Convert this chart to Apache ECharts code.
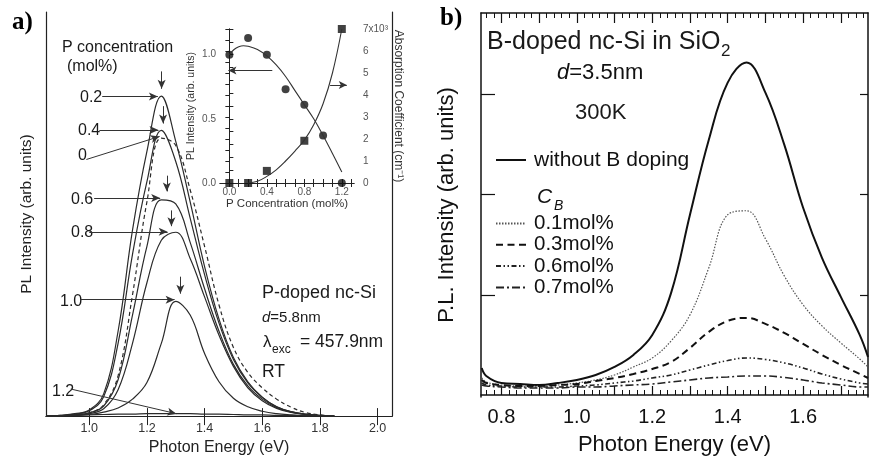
<!DOCTYPE html>
<html><head><meta charset="utf-8">
<script src="https://cdn.jsdelivr.net/npm/echarts@6/dist/echarts.min.js"></script>
<style>html,body{margin:0;padding:0;background:#fff}#c{width:869px;height:461px}</style>
</head><body><div id="c"></div>
<script>
const FONT = 'Liberation Sans';

// ---------- Panel a : PL spectra of P-doped nc-Si ----------
const energyA = [0.85,0.9,0.95,1.0,1.05,1.1,1.15,1.2,1.25,1.3,1.35,1.4,1.45,1.5,1.55,1.6,1.65,1.7,1.75,1.8,1.85];
const plA_00 = [0,0.1,0.3,0.8,2.8,10,30,53,68.8,67,56,42,27.5,17,10.8,7,4.2,2.2,0.9,0.3,0];
const plA_02 = [0,0.2,0.6,1.5,5.5,21,46,65.5,79.2,68,53,37,24,14.5,8.5,4.7,2.3,1.1,0.5,0.2,0];
const plA_04 = [0,0.2,0.5,1.3,4.8,18,40,58,70.7,63,49,35,23,14,8.2,4.6,2.3,1.1,0.5,0.2,0];
const plA_06 = [0,0.1,0.3,0.8,2.5,9,25,42,53.5,52.5,43,31.5,21,12.8,7.5,4.2,2.1,1,0.4,0.15,0];
const plA_08 = [0,0.1,0.2,0.6,1.8,6.5,18,33,43.5,45.5,39,29.5,20,12.3,7,3.8,1.9,0.9,0.4,0.15,0];
const plA_10 = [0,0,0.2,0.4,1,2,4.2,8.3,18,28.4,25,15.5,8.5,4.4,2.3,1.2,0.6,0.3,0.1,0,0];
const plA_12 = [0,0.1,0.2,0.3,0.4,0.5,0.5,0.6,0.6,0.6,0.6,0.5,0.5,0.4,0.3,0.3,0.2,0.2,0.1,0.1,0];
const concLabelsA = ['0.2','0.4','0','0.6','0.8','1.0','1.2'];
const ticksA = [1.0,1.2,1.4,1.6,1.8,2.0];

// ---------- Inset ----------
const concPts = [0,0.2,0.4,0.6,0.8,1.0,1.2];
const plPts = [1.0,1.13,1.0,0.73,0.61,0.37,0.0];
const absConcPts = [0,0.2,0.4,0.8,1.2];
const absPts = [0,0,0.55,1.92,7.0];
const fitPlX = [0,0.05,0.1,0.15,0.2,0.3,0.4,0.5,0.6,0.7,0.8,0.9,1.0,1.1,1.2];
const fitPlY = [1.0,1.04,1.062,1.07,1.066,1.04,0.99,0.92,0.83,0.72,0.61,0.5,0.37,0.23,0.085];
const fitAbsX = [0.2,0.3,0.4,0.5,0.6,0.7,0.8,0.9,1.0,1.1,1.2];
const fitAbsY = [0,0.08,0.3,0.6,1.0,1.45,1.95,2.65,3.6,5.0,7.0];
const insetXLabels = [0,0.4,0.8,1.2];
const insetYLabels = [0,0.5,1.0];
const insetY2Labels = [0,1,2,3,4,5,6,7];

// ---------- Panel b : PL spectra of B-doped nc-Si ----------
const energyB = [0.748,0.76,0.8,0.85,0.9,0.95,1.0,1.05,1.1,1.15,1.2,1.25,1.3,1.35,1.4,1.45,1.5,1.55,1.6,1.65,1.7,1.75,1.772];
const plB_none = [0.27,0.19,0.12,0.11,0.1,0.12,0.15,0.2,0.28,0.4,0.6,1.02,1.8,2.55,3.12,3.32,3.02,2.5,1.87,1.37,0.98,0.6,0.38];
const plB_01 = [0.17,0.13,0.1,0.09,0.09,0.1,0.12,0.15,0.2,0.28,0.37,0.54,0.8,1.27,1.8,1.84,1.56,1.19,0.9,0.69,0.52,0.36,0.28];
const plB_03 = [0.15,0.12,0.1,0.09,0.09,0.1,0.11,0.14,0.17,0.21,0.26,0.33,0.47,0.63,0.74,0.77,0.71,0.62,0.51,0.4,0.3,0.21,0.17];
const plB_06 = [0.12,0.1,0.09,0.08,0.08,0.08,0.09,0.1,0.12,0.14,0.17,0.2,0.25,0.3,0.345,0.37,0.355,0.32,0.27,0.21,0.16,0.12,0.11];
const plB_07 = [0.1,0.09,0.08,0.07,0.07,0.07,0.08,0.08,0.09,0.1,0.11,0.13,0.15,0.17,0.18,0.19,0.19,0.175,0.15,0.12,0.1,0.08,0.08];
const ticksBLabels = [0.8,1.0,1.2,1.4,1.6];
const ticksBY = [1,2,3];

function zip(xs, ys){ return xs.map((x,i)=>[x, ys[i]]); }
function steps(a, b, s){ const r=[]; for(let v=a; v<=b+1e-9; v+=s) r.push(+v.toFixed(3)); return r; }

const ticksBMajor = steps(0.8, 1.7, 0.1);
const ticksBMinor = steps(0.76, 1.76, 0.02);
const insetXTicks = steps(0, 1.3, 0.1);
const insetYTicks = steps(0, 1.2, 0.1);
const insetY2Ticks = steps(0, 7, 0.5);

const axisCol = '#222';
const NOSYM = {color:'rgba(0,0,0,0)', borderColor:'rgba(0,0,0,0)', borderWidth:0};
const txt = (text, x, y, size, extra) => Object.assign({
  type:'text', x, y, silent:true,
  style:{text, font: size+'px '+FONT, fill:'#1a1a1a', verticalAlign:'middle', align:'left'}
}, extra||{});

const lineA = (name, ys, dashed) => ({
  name, type:'line', xAxisIndex:0, yAxisIndex:0, data: zip(energyA, ys),
  smooth:0.4, symbol:'none', itemStyle:NOSYM,
  lineStyle:{color:'#2b2b2b', width:1.2, type: dashed ? [4,3] : 'solid'}
});
const lineB = (name, ys, width, type, color) => ({
  name, type:'line', xAxisIndex:4, yAxisIndex:4, data: zip(energyB, ys),
  smooth:0.4, symbol:'none', itemStyle:NOSYM,
  lineStyle:{color, width, type}
});

const arrowStyle = {symbol:['none','arrow'], symbolSize:[6,9], silent:true, label:{show:false},
  lineStyle:{color:'#333', width:1, type:'solid'}, emphasis:{disabled:true}};
const seg = (a,b) => [{coord:a},{coord:b}];

const chart = echarts.init(document.getElementById('c'), null, {renderer:'canvas'});
chart.setOption({
  animation:false,
  backgroundColor:'#fff',
  textStyle:{fontFamily:FONT},
  grid:[
    {left:46, top:12, width:346, height:407},
    {left:220, top:29, width:134, height:154},
    {left:481, top:13, width:387, height:386}
  ],
  xAxis:[
    {gridIndex:0, type:'value', position:'bottom', min:0.85, max:2.05,
      axisLine:{lineStyle:{color:axisCol, width:1.2}},
      axisTick:{inside:true, length:8, customValues:ticksA, lineStyle:{color:axisCol}},
      axisLabel:{customValues:ticksA, formatter:v=>v.toFixed(1), fontSize:12.5, color:'#333', margin:6},
      splitLine:{show:false},
      name:'Photon Energy (eV)', nameLocation:'middle', nameGap:19, nameTextStyle:{fontSize:16, color:'#222'}},
    {gridIndex:0, type:'value', position:'top', min:0.85, max:2.05,
      axisLine:{lineStyle:{color:axisCol, width:1.2}},
      axisTick:{inside:true, length:9, customValues:ticksA, lineStyle:{color:axisCol}},
      axisLabel:{show:false}, splitLine:{show:false}},
    {gridIndex:1, type:'value', position:'bottom', min:-0.1, max:1.33,
      axisLine:{lineStyle:{color:axisCol, width:1}},
      axisTick:{inside:true, length:4, customValues:insetXTicks, lineStyle:{color:axisCol}},
      axisLabel:{customValues:insetXLabels, formatter:v=>v.toFixed(1), fontSize:10, color:'#555', margin:4},
      splitLine:{show:false},
      name:'P Concentration (mol%)', nameLocation:'middle', nameGap:14, nameTextStyle:{fontSize:11.5, color:'#333'}},
    {gridIndex:1, type:'value', position:'top', min:-0.1, max:1.33,
      axisLine:{lineStyle:{color:axisCol, width:1}},
      axisTick:{inside:true, length:4, customValues:insetXTicks, lineStyle:{color:axisCol}},
      axisLabel:{show:false}, splitLine:{show:false}},
    {gridIndex:2, type:'value', position:'bottom', min:0.746, max:1.772,
      axisLine:{lineStyle:{color:'#111', width:1.5}},
      axisTick:{inside:true, length:9, customValues:ticksBMajor, lineStyle:{color:'#111', width:1.2}},
      axisLabel:{customValues:ticksBLabels, formatter:v=>v.toFixed(1), fontSize:20, color:'#111', margin:10},
      splitLine:{show:false},
      name:'Photon Energy (eV)', nameLocation:'middle', nameGap:37, nameTextStyle:{fontSize:22, color:'#111'}},
    {gridIndex:2, type:'value', position:'bottom', min:0.746, max:1.772,
      axisLine:{show:false},
      axisTick:{inside:true, length:5, customValues:ticksBMinor, lineStyle:{color:'#111', width:1}},
      axisLabel:{show:false}, splitLine:{show:false}},
    {gridIndex:2, type:'value', position:'top', min:0.746, max:1.772,
      axisLine:{lineStyle:{color:'#111', width:1.5}},
      axisTick:{inside:true, length:10, customValues:ticksBMajor, lineStyle:{color:'#111', width:1.2}},
      axisLabel:{show:false}, splitLine:{show:false}},
    {gridIndex:2, type:'value', position:'top', min:0.746, max:1.772,
      axisLine:{show:false},
      axisTick:{inside:true, length:5, customValues:ticksBMinor, lineStyle:{color:'#111', width:1}},
      axisLabel:{show:false}, splitLine:{show:false}}
  ],
  yAxis:[
    {gridIndex:0, type:'value', position:'left', min:0, max:100,
      axisLine:{show:true, lineStyle:{color:axisCol, width:1.2}}, axisTick:{show:false},
      axisLabel:{show:false}, splitLine:{show:false},
      name:'PL Intensity (arb. units)', nameLocation:'middle', nameGap:11, nameTextStyle:{fontSize:15.5, color:'#222'}},
    {gridIndex:0, type:'value', position:'right', min:0, max:100,
      axisLine:{show:true, lineStyle:{color:axisCol, width:1.2}}, axisTick:{show:false},
      axisLabel:{show:false}, splitLine:{show:false}},
    {gridIndex:1, type:'value', position:'left', min:0, max:1.2,
      axisLine:{show:true, lineStyle:{color:axisCol, width:1}},
      axisTick:{inside:true, length:4, customValues:insetYTicks, lineStyle:{color:axisCol}},
      axisLabel:{customValues:insetYLabels, formatter:v=>v.toFixed(1), fontSize:10, color:'#555', margin:4},
      splitLine:{show:false},
      name:'PL Intensity (arb. units)', nameLocation:'middle', nameGap:23, nameTextStyle:{fontSize:10.5, color:'#333'}},
    {gridIndex:1, type:'value', position:'right', min:0, max:7,
      axisLine:{show:true, lineStyle:{color:axisCol, width:1}},
      axisTick:{inside:true, length:4, customValues:insetY2Ticks, lineStyle:{color:axisCol}},
      axisLabel:{customValues:insetY2Labels, formatter:v=> v===7 ? '7x10³' : String(v), fontSize:10, color:'#555', margin:9},
      splitLine:{show:false},
      name:'Absorption Coefficient (cm⁻¹)', nameLocation:'middle', nameRotate:-90, nameGap:22, nameTextStyle:{fontSize:12, color:'#333'}},
    {gridIndex:2, type:'value', position:'left', min:-0.02, max:3.815,
      axisLine:{show:true, lineStyle:{color:'#111', width:1.5}},
      axisTick:{inside:true, length:14, customValues:ticksBY, lineStyle:{color:'#111', width:1.2}},
      axisLabel:{show:false}, splitLine:{show:false},
      name:'P.L. Intensity (arb. units)', nameLocation:'middle', nameGap:23, nameTextStyle:{fontSize:22, color:'#111'}},
    {gridIndex:2, type:'value', position:'right', min:-0.02, max:3.815,
      axisLine:{show:true, lineStyle:{color:'#111', width:1.5}},
      axisTick:{inside:true, length:8, customValues:ticksBY, lineStyle:{color:'#111', width:1.2}},
      axisLabel:{show:false}, splitLine:{show:false}}
  ],
  legend:[
    {data:['without B doping'], left:495, top:149.5, padding:0, itemWidth:30, itemHeight:14, selectedMode:false,
      itemStyle:NOSYM,
      textStyle:{fontSize:21, lineHeight:21, color:'#111', fontFamily:FONT, padding:[0,0,0,3]}},
    {data:['0.1mol%','0.3mol%','0.6mol%','0.7mol%'], orient:'vertical', left:495, top:213, padding:0, itemGap:0.3,
      itemWidth:30, itemHeight:14, selectedMode:false, itemStyle:NOSYM,
      textStyle:{fontSize:20.5, lineHeight:20, color:'#111', fontFamily:FONT, padding:[0,0,0,3]}}
  ],
  series:[
    lineA('0 mol%', plA_00, true),
    lineA('0.2 mol%', plA_02),
    lineA('0.4 mol%', plA_04),
    lineA('0.6 mol%', plA_06),
    lineA('0.8 mol%', plA_08),
    lineA('1.0 mol%', plA_10),
    lineA('1.2 mol%', plA_12),
    {name:'arrowsA', type:'line', xAxisIndex:0, yAxisIndex:0, data:[], symbol:'none',
      markLine:Object.assign({}, arrowStyle, {data:[
        seg([1.251,85.3],[1.251,81]), seg([1.256,76.7],[1.256,72.4]), seg([1.269,59.5],[1.269,55.6]),
        seg([1.285,50.9],[1.285,47]), seg([1.316,34.5],[1.316,30.3]),
        seg([1.045,79.1],[1.238,79.1]), seg([1.035,70.8],[1.24,70.8]), seg([0.99,63.5],[1.244,69.2]),
        seg([1.017,54],[1.246,54]), seg([1.0,45.6],[1.272,45.6]), seg([0.971,28.8],[1.296,28.8]),
        seg([0.936,6.7],[1.302,0.6])
      ]})},
    // inset
    {name:'PL fit', type:'line', xAxisIndex:2, yAxisIndex:2, data:zip(fitPlX, fitPlY), smooth:0.4, symbol:'none',
      lineStyle:{color:'#333', width:1.1}},
    {name:'Abs fit', type:'line', xAxisIndex:2, yAxisIndex:3, data:zip(fitAbsX, fitAbsY), smooth:0.4, symbol:'none',
      lineStyle:{color:'#333', width:1.1}},
    {name:'PL intensity', type:'scatter', xAxisIndex:2, yAxisIndex:2, data:zip(concPts, plPts), symbol:'circle', symbolSize:8,
      itemStyle:{color:'#111'}},
    {name:'Absorption', type:'scatter', xAxisIndex:2, yAxisIndex:3, data:zip(absConcPts, absPts), symbol:'rect', symbolSize:8,
      itemStyle:{color:'#111'}},
    {name:'arrowInsetL', type:'line', xAxisIndex:2, yAxisIndex:2, data:[], symbol:'none',
      markLine:Object.assign({}, arrowStyle, {symbolSize:[6,8], data:[seg([0.458,0.877],[-0.01,0.877])]})},
    {name:'arrowInsetR', type:'line', xAxisIndex:2, yAxisIndex:3, data:[], symbol:'none',
      markLine:Object.assign({}, arrowStyle, {symbolSize:[6,8], data:[seg([1.075,4.45],[1.253,4.45])]})},
    // panel b
    lineB('without B doping', plB_none, 2, 'solid', '#111'),
    lineB('0.1mol%', plB_01, 1.2, [1.5,1.5], '#555'),
    lineB('0.3mol%', plB_03, 2, [7,4.5], '#111'),
    lineB('0.6mol%', plB_06, 1.6, [5,2.5,1.5,2.5,1.5,2.5], '#222'),
    lineB('0.7mol%', plB_07, 1.6, [8,3,2,3], '#222')
  ],
  graphic:[
    {type:'text', x:12, y:23, silent:true, style:{text:'a)', font:'bold 25px Liberation Serif', fill:'#000', verticalAlign:'middle'}},
    {type:'text', x:440, y:19, silent:true, style:{text:'b)', font:'bold 25px Liberation Serif', fill:'#000', verticalAlign:'middle'}},
    txt('P concentration', 62, 48, 16),
    txt('(mol%)', 67, 67, 16),
    txt(concLabelsA[0], 80, 98, 16),
    txt(concLabelsA[1], 78, 131, 16),
    txt(concLabelsA[2], 78, 156, 16),
    txt(concLabelsA[3], 71, 200, 16),
    txt(concLabelsA[4], 71, 233, 16),
    txt(concLabelsA[5], 60, 302, 16),
    txt(concLabelsA[6], 52, 392, 16),
    txt('P-doped nc-Si', 262, 293, 18),
    {type:'text', x:262, y:318, silent:true, style:{text:'{i|d}=5.8nm', font:'15px '+FONT, fill:'#1a1a1a', verticalAlign:'middle',
      rich:{i:{fontStyle:'italic', fontSize:15, fontFamily:FONT}}}},
    txt('λ', 263, 342, 17),
    txt('exc', 272, 350, 12),
    txt('= 457.9nm', 300, 342, 17.5),
    txt('RT', 262, 372, 17.5),
    txt('B-doped nc-Si in SiO', 487, 42, 25),
    txt('2', 721, 51, 17),
    {type:'text', x:557, y:73, silent:true, style:{text:'{i|d}=3.5nm', font:'22px '+FONT, fill:'#111', verticalAlign:'middle',
      rich:{i:{fontStyle:'italic', fontSize:22, fontFamily:FONT}}}},
    txt('300K', 575, 113, 22),
    txt('C', 537, 197, 21, {style:{text:'C', font:'italic 21px '+FONT, fill:'#111', verticalAlign:'middle', align:'left'}}),
    txt('B', 554, 206, 14, {style:{text:'B', font:'italic 14px '+FONT, fill:'#111', verticalAlign:'middle', align:'left'}})
  ]
});
</script></body></html>
